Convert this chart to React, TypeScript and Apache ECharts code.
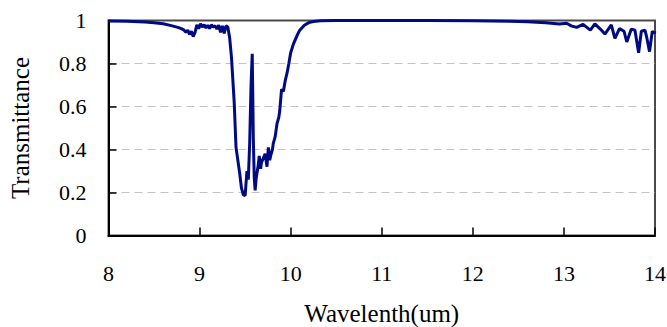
import React, { useEffect, useRef } from "react";
import * as echarts from "echarts";

const xTicks = [8, 9, 10, 11, 12, 13, 14];
const yTicks = [0, 0.2, 0.4, 0.6, 0.8, 1];

const wavelength = [
  8.0, 8.2, 8.4, 8.5, 8.6, 8.7, 8.76, 8.8, 8.83, 8.85, 8.87, 8.89, 8.91, 8.93, 8.95, 8.97, 8.99,
  9.01, 9.03, 9.05, 9.07, 9.09, 9.11, 9.13, 9.15, 9.17, 9.19, 9.21, 9.23, 9.25, 9.27, 9.29, 9.31,
  9.33, 9.35, 9.38, 9.4, 9.42, 9.44, 9.46, 9.48, 9.5, 9.52, 9.535, 9.55, 9.565, 9.578, 9.59, 9.6,
  9.61, 9.62, 9.63, 9.645, 9.655, 9.67, 9.68, 9.7, 9.72, 9.74, 9.755, 9.77, 9.78, 9.8, 9.81, 9.83,
  9.85, 9.87, 9.88, 9.9, 9.92, 9.94, 9.96, 9.98, 10.0, 10.03, 10.07, 10.1, 10.15, 10.2, 10.25,
  10.33, 10.5, 11.0, 11.5, 12.0, 12.4, 12.6, 12.8, 12.95, 13.03, 13.08, 13.14, 13.21, 13.29,
  13.34, 13.4, 13.45, 13.52, 13.56, 13.61, 13.66, 13.69, 13.74, 13.78, 13.82, 13.85, 13.89,
  13.91, 13.94, 13.97, 13.99, 14.0,
];

const transmittance = [
  0.998, 0.997, 0.993, 0.99, 0.985, 0.975, 0.968, 0.962, 0.955, 0.945, 0.955, 0.935, 0.95, 0.925,
  0.945, 0.98, 0.962, 0.985, 0.97, 0.98, 0.965, 0.978, 0.962, 0.98, 0.97, 0.975, 0.96, 0.978,
  0.945, 0.975, 0.94, 0.975, 0.97, 0.92, 0.83, 0.62, 0.41, 0.35, 0.29, 0.22, 0.19, 0.185, 0.3,
  0.26, 0.43, 0.7, 0.845, 0.45, 0.27, 0.21, 0.26, 0.29, 0.33, 0.37, 0.31, 0.34, 0.36, 0.38, 0.32,
  0.41, 0.35, 0.37, 0.4, 0.43, 0.46, 0.52, 0.55, 0.58, 0.68, 0.67, 0.72, 0.755, 0.8, 0.85, 0.89,
  0.93, 0.955, 0.978, 0.99, 0.995, 0.999, 1.0, 1.0, 1.0, 0.999, 0.997, 0.994, 0.99, 0.984, 0.987,
  0.975, 0.968, 0.982, 0.955, 0.984, 0.96, 0.937, 0.98, 0.917, 0.962, 0.95, 0.9, 0.96, 0.955,
  0.85, 0.95, 0.955, 0.92, 0.855, 0.95, 0.94, 0.95,
];

const xName = "Wavelenth(um)";
const yName = "Transmittance";

export default function App() {
  const ref = useRef<HTMLDivElement>(null);
  useEffect(() => {
    if (!ref.current) return;
    const chart = echarts.init(ref.current, undefined, { renderer: "svg" });
    const data = wavelength.map((w, i) => [w, transmittance[i]]);
    const serif = "Liberation Serif";
    const grey = "#c4c4c4";
    chart.setOption({
      animation: false,
      backgroundColor: "#ffffff",
      textStyle: { fontFamily: serif, color: "#000" },
      grid: {
        left: 108.5,
        right: 12,
        top: 20.5,
        bottom: 91.5,
        outerBoundsMode: "none",
        containLabel: false,
        show: true,
        borderColor: "#4a4a4a",
        borderWidth: 2,
        backgroundColor: "transparent",
      },
      xAxis: {
        type: "value",
        min: xTicks[0],
        max: xTicks[xTicks.length - 1],
        interval: 1,
        name: xName,
        nameLocation: "middle",
        nameGap: 65,
        nameTextStyle: { fontFamily: serif, fontSize: 25, color: "#000" },
        axisLine: { show: true, onZero: false, lineStyle: { color: "#000", width: 2 } },
        axisTick: { show: true, inside: true, length: 8, lineStyle: { color: "#000", width: 1.5 } },
        axisLabel: { fontFamily: serif, fontSize: 22, color: "#000", margin: 27 },
        splitLine: { show: false },
      },
      yAxis: {
        type: "value",
        min: yTicks[0],
        max: yTicks[yTicks.length - 1],
        interval: 0.2,
        name: yName,
        nameLocation: "middle",
        nameGap: 76,
        nameTextStyle: { fontFamily: serif, fontSize: 25, color: "#000" },
        axisLine: { show: true, onZero: false, lineStyle: { color: "#000", width: 2 } },
        axisTick: { show: true, inside: true, length: 8, lineStyle: { color: "#000", width: 1.5 } },
        axisLabel: {
          fontFamily: serif,
          fontSize: 22,
          color: "#000",
          margin: 22,
          padding: [7, 0, 0, 0],
          formatter: (v: number) => {
            const r = Math.round(v * 10) / 10;
            return r === 0 ? "0" : r === 1 ? "1" : r.toFixed(1);
          },
        },
        splitLine: {
          show: true,
          lineStyle: {
            color: [grey, grey, grey, grey, grey, "rgba(0,0,0,0)"],
            width: 1,
            type: [8, 5],
          },
        },
      },
      series: [
        {
          type: "line",
          data,
          showSymbol: false,
          symbol: "none",
          lineStyle: { color: "#000a82", width: 3 },
          z: 5,
        },
      ],
    });
    return () => chart.dispose();
  }, []);
  return (
    <div
      ref={ref}
      style={{ position: "absolute", left: 0, top: 0, width: 667, height: 327 }}
    />
  );
}
